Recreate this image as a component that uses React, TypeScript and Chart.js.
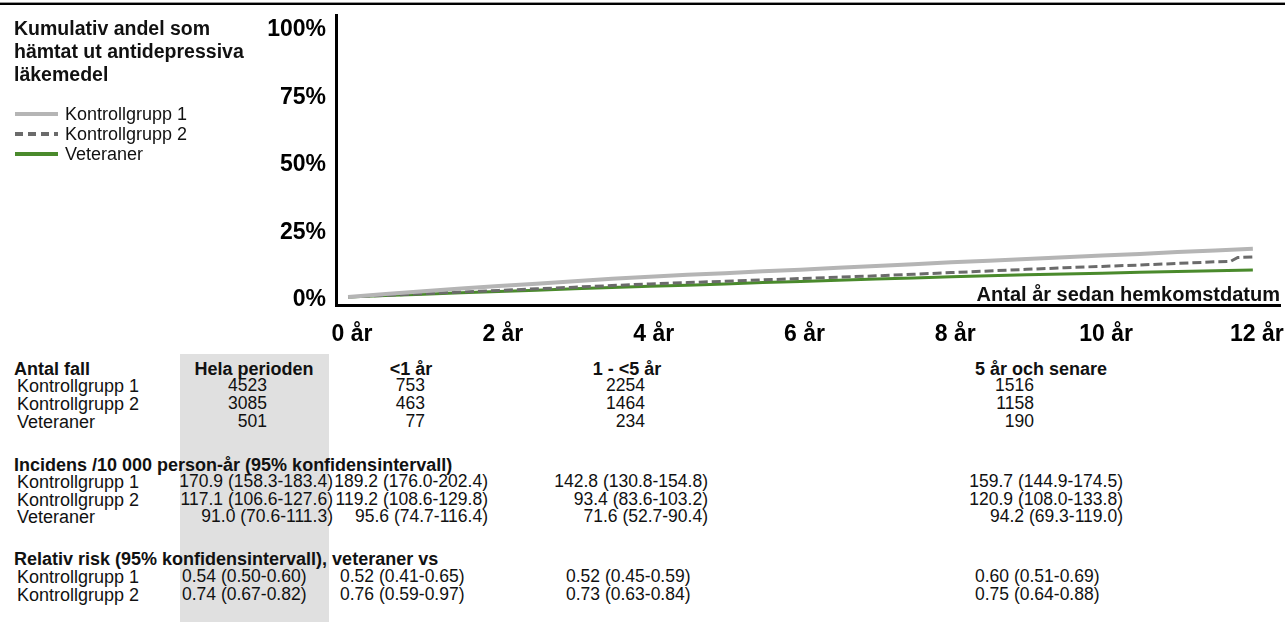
import React, { useEffect, useRef } from "react";
import { Chart, registerables } from "chart.js";

Chart.register(...registerables);

// ---- curve data (years since homecoming, cumulative %) ----
const yearsX = [0, 0.5, 1, 1.5, 2, 2.5, 3, 3.5, 4, 4.5, 5, 5.5, 6, 6.5, 7, 7.5, 8, 8.5, 9, 9.5, 10, 10.5, 11, 11.5, 12];
const kontroll1 = [0, 1.1, 2.1, 3.1, 4.0, 4.9, 5.8, 6.7, 7.5, 8.2, 8.8, 9.5, 10.1, 10.8, 11.4, 12.1, 12.8, 13.4, 14.0, 14.7, 15.3, 15.9, 16.6, 17.2, 17.8];
const kontroll2X = [0, 0.5, 1, 1.5, 2, 2.5, 3, 3.5, 4, 4.5, 5, 5.5, 6, 6.5, 7, 7.5, 8, 8.5, 9, 9.5, 10, 10.5, 11, 11.5, 11.7, 11.8, 12];
const kontroll2 = [0, 0.6, 1.2, 1.8, 2.4, 3.0, 3.6, 4.2, 4.8, 5.3, 5.8, 6.3, 6.8, 7.3, 7.8, 8.4, 9.0, 9.6, 10.2, 10.8, 11.3, 11.8, 12.4, 13.0, 13.1, 14.6, 14.8];
const veteraner = [0, 0.5, 1.0, 1.5, 2.0, 2.5, 3.0, 3.5, 3.9, 4.3, 4.8, 5.3, 5.7, 6.2, 6.6, 7.0, 7.5, 7.8, 8.2, 8.5, 8.8, 9.1, 9.4, 9.7, 10.0];

const seriesNames = ["Kontrollgrupp 1", "Kontrollgrupp 2", "Veteraner"];
const yTicks = [0, 25, 50, 75, 100];
const xTicks = [0, 2, 4, 6, 8, 10, 12];

// ---- table data ----
const periods = ["Hela perioden", "<1 år", "1 - <5 år", "5 år och senare"];
const casesGroups = ["Kontrollgrupp 1", "Kontrollgrupp 2", "Veteraner"];
const cases = [
  ["4523", "753", "2254", "1516"],
  ["3085", "463", "1464", "1158"],
  ["501", "77", "234", "190"],
];
const incidence = [
  ["170.9 (158.3-183.4)", "189.2 (176.0-202.4)", "142.8 (130.8-154.8)", "159.7 (144.9-174.5)"],
  ["117.1 (106.6-127.6)", "119.2 (108.6-129.8)", "93.4 (83.6-103.2)", "120.9 (108.0-133.8)"],
  ["91.0 (70.6-111.3)", "95.6 (74.7-116.4)", "71.6 (52.7-90.4)", "94.2 (69.3-119.0)"],
];
const rrGroups = ["Kontrollgrupp 1", "Kontrollgrupp 2"];
const relativeRisk = [
  ["0.54 (0.50-0.60)", "0.52 (0.41-0.65)", "0.52 (0.45-0.59)", "0.60 (0.51-0.69)"],
  ["0.74 (0.67-0.82)", "0.76 (0.59-0.97)", "0.73 (0.63-0.84)", "0.75 (0.64-0.88)"],
];

const FONT = "'Liberation Sans', Arial, sans-serif";
const COLORS = ["#b5b5b5", "#6b6b6b", "#4a8a2c"];

type TProps = { x: number; y: number; align?: "left" | "right" | "center"; bold?: boolean; size?: number; children: React.ReactNode };
function T({ x, y, align = "left", bold = false, size = 17.5, children }: TProps) {
  const tx = align === "left" ? "0" : align === "right" ? "-100%" : "-50%";
  return (
    <div
      style={{
        position: "absolute",
        left: x,
        top: y,
        transform: `translate(${tx}, -50%)`,
        whiteSpace: "nowrap",
        fontFamily: FONT,
        fontSize: size,
        fontWeight: bold ? 700 : 400,
        lineHeight: 1,
        color: "#111",
      }}
    >
      {children}
    </div>
  );
}

export default function App() {
  const ref = useRef<HTMLCanvasElement | null>(null);

  useEffect(() => {
    if (!ref.current) return;
    const chart = new Chart(ref.current, {
      type: "line",
      data: {
        datasets: [
          {
            label: seriesNames[0],
            data: yearsX.map((x, i) => ({ x, y: kontroll1[i] })),
            borderColor: COLORS[0],
            borderWidth: 4,
            pointRadius: 0,
          },
          {
            label: seriesNames[1],
            data: kontroll2X.map((x, i) => ({ x, y: kontroll2[i] })),
            borderColor: COLORS[1],
            borderWidth: 3,
            borderDash: [9, 4],
            pointRadius: 0,
          },
          {
            label: seriesNames[2],
            data: yearsX.map((x, i) => ({ x, y: veteraner[i] })),
            borderColor: COLORS[2],
            borderWidth: 3,
            pointRadius: 0,
          },
        ],
      },
      options: {
        animation: false,
        responsive: false,
        devicePixelRatio: 1,
        layout: { padding: { top: 15, right: 5, left: 0, bottom: 0 } },
        plugins: { legend: { display: false }, tooltip: { enabled: false } },
        scales: {
          x: {
            type: "linear",
            min: -0.16,
            max: 12.36,
            afterBuildTicks: (s: any) => {
              s.ticks = xTicks.map((v) => ({ value: v }));
            },
            afterFit: (s: any) => {
              s.height = 45;
              s.paddingLeft = 0;
              s.paddingRight = 0;
            },
            grid: { display: false, drawTicks: false },
            border: { display: true, color: "#000", width: 3 },
            ticks: {
              padding: 16,
              labelOffset: 4,
              color: "#000",
              font: { family: FONT, size: 23, weight: "bold" },
              maxRotation: 0,
              callback: (v: any) => `${v} år`,
            },
          },
          y: {
            min: -3,
            max: 104.4,
            afterBuildTicks: (s: any) => {
              s.ticks = yTicks.map((v) => ({ value: v }));
            },
            afterFit: (s: any) => {
              s.width = 336;
              s.paddingTop = 0;
              s.paddingBottom = 0;
            },
            grid: { display: false, drawTicks: false },
            border: { display: true, color: "#000", width: 3 },
            ticks: {
              padding: 10,
              labelOffset: 3,
              color: "#000",
              font: { family: FONT, size: 23, weight: "bold" },
              callback: (v: any) => `${v}%`,
            },
          },
        },
      },
    });
    return () => chart.destroy();
  }, []);

  const legendRows = [114, 134, 154];
  const countCols = [267, 425, 645, 1034];
  const headerCols = [254, 411, 627, 1041];
  const incCols = [333, 488, 708, 1123];
  const rrCols = [182, 340, 566, 975];

  return (
    <div style={{ position: "absolute", left: 0, top: 0, width: 1285, height: 622, background: "#fff", overflow: "hidden" }}>
      <div style={{ position: "absolute", left: 0, top: 2, width: 1285, height: 1, background: "#999" }} />
      <div style={{ position: "absolute", left: 0, top: 3, width: 1285, height: 2, background: "#000" }} />
      <div style={{ position: "absolute", left: 180, top: 354, width: 149, height: 268, background: "#e0e0e0" }} />
      <canvas ref={ref} width={1285} height={350} style={{ position: "absolute", left: 0, top: 0, width: 1285, height: 350 }} />

      <div
        style={{
          position: "absolute",
          left: 14,
          top: 17,
          fontFamily: FONT,
          fontWeight: 700,
          fontSize: 19.5,
          lineHeight: "23px",
          color: "#111",
        }}
      >
        Kumulativ andel som
        <br />
        hämtat ut antidepressiva
        <br />
        läkemedel
      </div>

      <svg style={{ position: "absolute", left: 0, top: 100 }} width={64} height={70}>
        <line x1={15} y1={legendRows[0] - 100} x2={58} y2={legendRows[0] - 100} stroke={COLORS[0]} strokeWidth={4} />
        <line x1={15} y1={legendRows[1] - 100} x2={58} y2={legendRows[1] - 100} stroke={COLORS[1]} strokeWidth={4} strokeDasharray="8 5" />
        <line x1={15} y1={legendRows[2] - 100} x2={58} y2={legendRows[2] - 100} stroke={COLORS[2]} strokeWidth={4} />
      </svg>
      {seriesNames.map((n, i) => (
        <T key={n} x={65} y={legendRows[i]} size={18}>
          {n}
        </T>
      ))}

      <T x={1280} y={294} align="right" bold size={20}>
        Antal år sedan hemkomstdatum
      </T>

      {/* Table */}
      <T x={14} y={369} bold size={18}>
        Antal fall
      </T>
      {periods.map((p, i) => (
        <T key={p} x={headerCols[i]} y={369} align="center" bold size={18}>
          {p}
        </T>
      ))}
      {casesGroups.map((g, r) => (
        <React.Fragment key={g}>
          <T x={17} y={386 + r * 18} size={18}>
            {g}
          </T>
          {cases[r].map((v, c) => (
            <T key={c} x={countCols[c]} y={386 + r * 18} align="right">
              {v}
            </T>
          ))}
        </React.Fragment>
      ))}

      <T x={14} y={465} bold size={18}>
        Incidens /10 000 person-år (95% konfidensintervall)
      </T>
      {casesGroups.map((g, r) => (
        <React.Fragment key={g}>
          <T x={17} y={482 + r * 17.5} size={18}>
            {g}
          </T>
          {incidence[r].map((v, c) => (
            <T key={c} x={incCols[c]} y={482 + r * 17.5} align="right">
              {v}
            </T>
          ))}
        </React.Fragment>
      ))}

      <T x={14} y={559} bold size={18}>
        Relativ risk (95% konfidensintervall), veteraner vs
      </T>
      {rrGroups.map((g, r) => (
        <React.Fragment key={g}>
          <T x={17} y={577 + r * 18} size={18}>
            {g}
          </T>
          {relativeRisk[r].map((v, c) => (
            <T key={c} x={rrCols[c]} y={577 + r * 18} align="left">
              {v}
            </T>
          ))}
        </React.Fragment>
      ))}
    </div>
  );
}
